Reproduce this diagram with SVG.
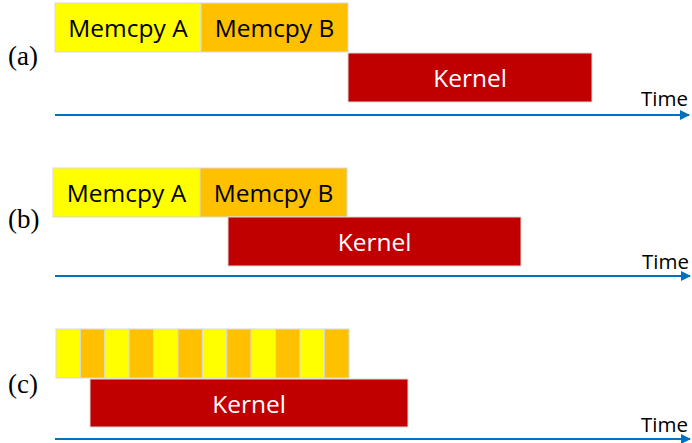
<svg xmlns="http://www.w3.org/2000/svg" width="692" height="443" viewBox="0 0 692 443">
  <style>
    .copyA { fill: #FFFF00; stroke: #D9D9D9; stroke-width: 1; }
    .copyB { fill: #FFC000; stroke: #D9D9D9; stroke-width: 1; }
    .kernel { fill: #C00000; stroke: #D9D9D9; stroke-width: 1; }
    .lbl { font-family: "Open Sans", "Liberation Sans", sans-serif; font-size: 24.5px; text-anchor: middle; }
    .dark { fill: #000000; }
    .light { fill: #FFFFFF; }
    .case { font-family: "Liberation Serif", "Times New Roman", serif; font-size: 27px; fill: #000000; }
    .time { font-family: "Open Sans", "Liberation Sans", sans-serif; font-size: 20.5px; fill: #000000; }
    .axis { stroke: #0070C0; stroke-width: 2; fill: none; marker-end: url(#arrow); }
  </style>
  <defs>
    <marker id="arrow" viewBox="0 0 10 10" refX="9" refY="5" markerWidth="5" markerHeight="5" orient="auto" markerUnits="strokeWidth">
      <path d="M0,0 L10,5 L0,10 Z" fill="#0070C0"/>
    </marker>
  </defs>

  <rect width="692" height="443" fill="#FFFFFF"/>

  <!-- Case labels -->
  <text class="case" x="8" y="65">(a)</text>
  <text class="case" x="8" y="228">(b)</text>
  <text class="case" x="8" y="393">(c)</text>

  <!-- (a) serial: copy A, copy B, then kernel -->
  <g id="a-memcpyA">
    <rect class="copyA" x="55" y="3" width="146" height="49"/>
    <text class="lbl dark" x="128" y="37">Memcpy A</text>
  </g>
  <g id="a-memcpyB">
    <rect class="copyB" x="201" y="3" width="147" height="49"/>
    <text class="lbl dark" x="274.5" y="37">Memcpy B</text>
  </g>
  <g id="a-kernel">
    <rect class="kernel" x="348" y="53" width="244" height="49"/>
    <text class="lbl light" x="470" y="87">Kernel</text>
  </g>

  <!-- (b) kernel starts after copy A -->
  <g id="b-memcpyA">
    <rect class="copyA" x="53" y="168" width="147" height="49"/>
    <text class="lbl dark" x="126.5" y="202">Memcpy A</text>
  </g>
  <g id="b-memcpyB">
    <rect class="copyB" x="200" y="168" width="147" height="49"/>
    <text class="lbl dark" x="273.5" y="202">Memcpy B</text>
  </g>
  <g id="b-kernel">
    <rect class="kernel" x="228" y="217" width="293" height="49"/>
    <text class="lbl light" x="374.5" y="251">Kernel</text>
  </g>

  <!-- (c) chunked copies overlapping the kernel -->
  <g id="c-chunks">
    <rect class="copyA" x="56" y="329" width="24.4" height="49"/>
    <rect class="copyB" x="80.4" y="329" width="24.4" height="49"/>
    <rect class="copyA" x="104.8" y="329" width="24.4" height="49"/>
    <rect class="copyB" x="129.2" y="329" width="24.4" height="49"/>
    <rect class="copyA" x="153.6" y="329" width="24.4" height="49"/>
    <rect class="copyB" x="178" y="329" width="24.4" height="49"/>
    <rect class="copyA" x="202.4" y="329" width="24.4" height="49"/>
    <rect class="copyB" x="226.8" y="329" width="24.4" height="49"/>
    <rect class="copyA" x="251.2" y="329" width="24.4" height="49"/>
    <rect class="copyB" x="275.6" y="329" width="24.4" height="49"/>
    <rect class="copyA" x="300" y="329" width="24.4" height="49"/>
    <rect class="copyB" x="324.4" y="329" width="24.6" height="49"/>
  </g>
  <g id="c-kernel">
    <rect class="kernel" x="90" y="379" width="318" height="48"/>
    <text class="lbl light" x="249" y="413">Kernel</text>
  </g>

  <!-- Time axes -->
  <g id="axes">
    <line class="axis" x1="55" y1="115" x2="689" y2="115"/>
    <line class="axis" x1="55" y1="276" x2="690" y2="276"/>
    <line class="axis" x1="55" y1="439" x2="690" y2="439"/>
    <text class="time" x="641" y="106">Time</text>
    <text class="time" x="642" y="269">Time</text>
    <text class="time" x="641" y="432">Time</text>
  </g>
</svg>
